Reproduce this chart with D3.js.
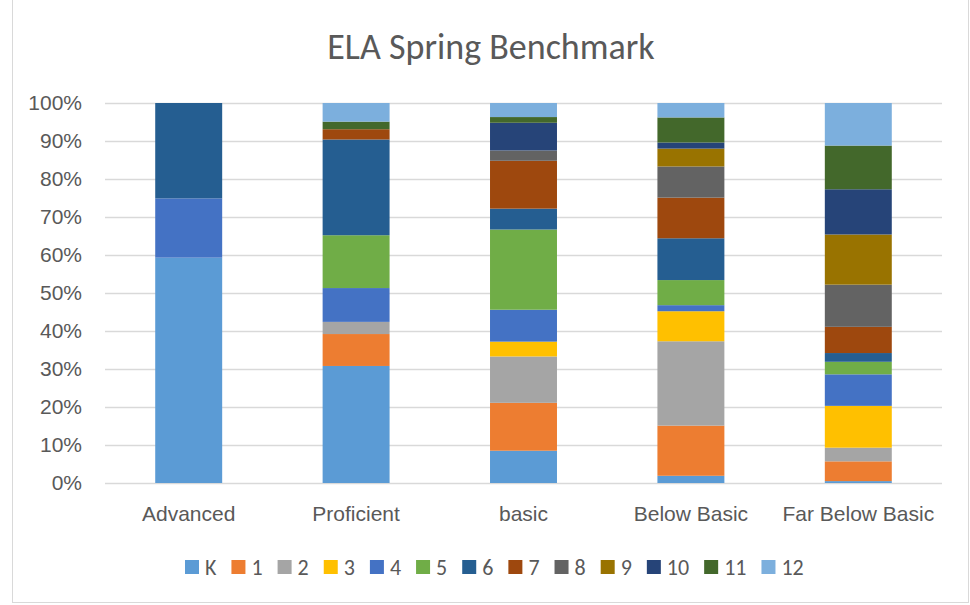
<!DOCTYPE html>
<html>
<head>
<meta charset="utf-8">
<script src="https://cdn.jsdelivr.net/npm/d3@7"></script>
<style>
  body { margin: 0; background: #fff; }
  svg { font-family: Carlito, Calibri, Lato, sans-serif; }
</style>
</head>
<body>
<script>
// categories along the x axis
const levels = ['Advanced', 'Proficient', 'basic', 'Below Basic', 'Far Below Basic'];
// grades (series), bottom to top
const grades = ['K', '1', '2', '3', '4', '5', '6', '7', '8', '9', '10', '11', '12'];
const gradeColors = ['#5B9BD5', '#ED7D31', '#A5A5A5', '#FFC000', '#4472C4', '#70AD47',
	'#255E91', '#9E480E', '#636363', '#997300', '#264478', '#43682B', '#7CAFDD'];

// share of each grade (percent) per level, order matches grades
const advanced      = [59.3, 0, 0, 0, 15.6, 0, 25.1, 0, 0, 0, 0, 0, 0];
const proficient    = [30.8, 8.4, 3.2, 0, 8.9, 13.9, 25.2, 2.7, 0, 0, 0, 2.0, 4.9];
const basic         = [8.5, 12.6, 12.2, 3.9, 8.4, 21.1, 5.5, 12.6, 2.7, 0, 7.3, 1.5, 3.7];
const belowBasic    = [1.9, 13.2, 22.2, 7.9, 1.6, 6.6, 11.0, 10.7, 8.2, 4.7, 1.6, 6.6, 3.8];
const farBelowBasic = [0.5, 5.2, 3.6, 11.0, 8.3, 3.3, 2.3, 6.9, 11.1, 13.2, 11.9, 11.5, 11.2];

const yTicks = [0, 0.1, 0.2, 0.3, 0.4, 0.5, 0.6, 0.7, 0.8, 0.9, 1];

const width = 970, height = 605;
const margin = {top: 103, right: 28, bottom: 122, left: 105};
const textColor = '#595959';

const rows = [advanced, proficient, basic, belowBasic, farBelowBasic].map((vals, i) => {
	const row = {level: levels[i]};
	grades.forEach((g, j) => { row[g] = vals[j]; });
	return row;
});

const stacked = d3.stack()
	.keys(grades)
	.offset(d3.stackOffsetExpand)(rows);

const svg = d3.select('body').append('svg')
	.attr('width', width)
	.attr('height', height);

// chart border
svg.append('rect')
	.attr('x', 12.5).attr('y', -1)
	.attr('width', width - 14).attr('height', height - 1.5)
	.attr('fill', 'none')
	.attr('stroke', '#d9d9d9');

const x = d3.scaleBand()
	.domain(levels)
	.range([margin.left, width - margin.right])
	.paddingInner(0.6)
	.paddingOuter(0.3);

const y = d3.scaleLinear()
	.domain([0, 1])
	.range([height - margin.bottom, margin.top]);

// gridlines + y labels
const yAxis = svg.append('g')
	.attr('transform', `translate(${margin.left},0)`)
	.call(d3.axisLeft(y)
		.tickValues(yTicks)
		.tickFormat(d3.format('.0%'))
		.tickSize(-(width - margin.left - margin.right))
		.tickPadding(23));
yAxis.select('.domain').remove();
yAxis.selectAll('line').attr('stroke', '#d9d9d9').attr('stroke-width', 1.3);
yAxis.selectAll('text').attr('fill', textColor).style('font-size', '21px');

// bars
svg.append('g').selectAll('g')
	.data(stacked)
	.join('g')
	.attr('fill', (d, i) => gradeColors[i])
	.selectAll('rect')
	.data(d => d)
	.join('rect')
	.attr('x', d => x(d.data.level))
	.attr('y', d => y(d[1]))
	.attr('height', d => y(d[0]) - y(d[1]))
	.attr('width', x.bandwidth());

// category labels
const xAxis = svg.append('g')
	.attr('transform', `translate(0,${height - margin.bottom})`)
	.call(d3.axisBottom(x).tickSize(0).tickPadding(23));
xAxis.select('.domain').remove();
xAxis.selectAll('text').attr('fill', textColor).style('font-size', '21px');

// title
svg.append('text')
	.attr('x', 491)
	.attr('y', 59)
	.attr('text-anchor', 'middle')
	.attr('fill', textColor)
	.style('font-size', '36px')
	.text('ELA Spring Benchmark');

// legend
const legend = svg.append('g').attr('transform', 'translate(185,567)');
let lx = 0;
grades.forEach((g, i) => {
	const item = legend.append('g').attr('transform', `translate(${lx},0)`);
	item.append('rect')
		.attr('x', 0).attr('y', -7)
		.attr('width', 14).attr('height', 14)
		.attr('fill', gradeColors[i]);
	const t = item.append('text')
		.attr('x', 20).attr('y', 8)
		.attr('fill', textColor)
		.style('font-size', '22px')
		.text(g);
	lx += 20 + t.node().getComputedTextLength() + 15;
});
</script>
</body>
</html>
